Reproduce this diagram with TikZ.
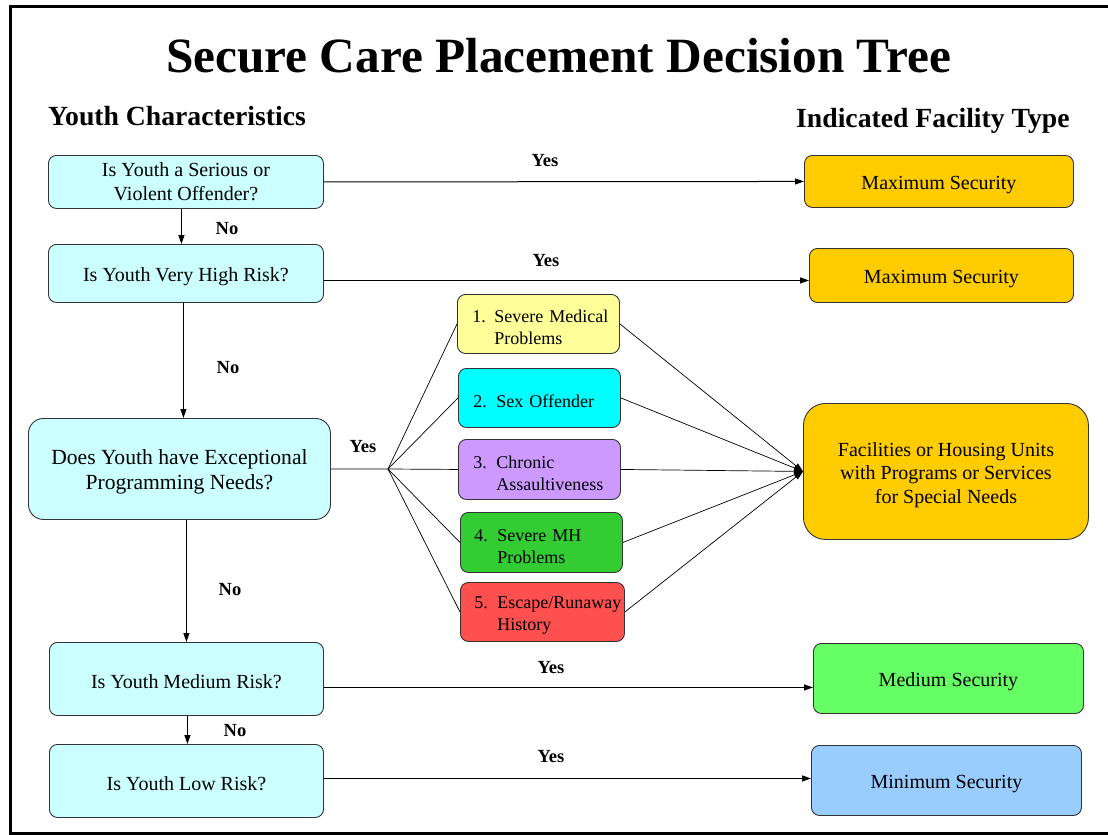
\documentclass[tikz,border=0pt]{standalone}
\usepackage{fontspec}
\setmainfont{Liberation Serif}
\usetikzlibrary{arrows.meta}
\definecolor{qcyan}{HTML}{CCFFFF}
\definecolor{maxsec}{HTML}{FFCC00}
\definecolor{mone}{HTML}{FFFF99}
\definecolor{mtwo}{HTML}{00FFFF}
\definecolor{mthree}{HTML}{CC99FF}
\definecolor{mfour}{HTML}{33CC33}
\definecolor{mfive}{HTML}{FF5050}
\definecolor{medsec}{HTML}{66FF66}
\definecolor{minsec}{HTML}{99CCFF}
\definecolor{edgegray}{HTML}{333333}
\begin{document}
\begin{tikzpicture}[x=1pt,y=-1pt,
  dn/.style={execute at begin node={\rule{0pt}{#1}}},
  box/.style={draw=edgegray, line width=0.9pt, rounded corners=8pt, anchor=north west,
    inner sep=0pt, align=center, dn=19.8pt,
    font=\fontsize{20}{23.5}\selectfont},
  sz/.style n args={2}{minimum width=#1pt, minimum height=#2pt},
  qbox/.style={box, fill=qcyan},
  mbox/.style={box, align=left, dn=13.5pt, font=\fontsize{18}{22}\selectfont},
  lbl/.style={font=\bfseries\fontsize{18.5}{20}\selectfont, inner sep=0pt},
  arr/.style={line width=1pt, -{Triangle[length=9pt,width=6pt]}},
  fanline/.style={line width=0.7pt},
  frame/.style={line width=3pt}
]
\useasboundingbox (0,0) rectangle (1108,835);
\draw[frame] (1108,6.5) -- (10.5,6.5) -- (10.5,833.5) -- (1108,833.5);

% headings
\node[anchor=base, font=\bfseries\fontsize{49.3}{55}\selectfont, inner sep=0pt] (title) at (558.5,72) {Secure Care Placement Decision Tree};
\node[anchor=base west, font=\bfseries\fontsize{27.7}{30}\selectfont, inner sep=0pt] (hleft) at (48,125) {Youth Characteristics};
\node[anchor=base west, font=\bfseries\fontsize{27.7}{30}\selectfont, inner sep=0pt] (hright) at (796,127) {Indicated Facility Type};

% questions
\node[qbox, sz={275}{53}, dn=17pt] (q1) at (48,155) {Is Youth a Serious or\\Violent Offender?};
\node[qbox, sz={275}{58}] (q2) at (48,244) {Is Youth Very High Risk?};
\node[qbox, sz={302}{101}, rounded corners=15pt, dn=0pt, font=\fontsize{21.6}{25}\selectfont] (q3) at (28,418) {\rule{0pt}{20pt}Does Youth have Exceptional\\Programming Needs?};
\node[qbox, sz={274}{73}] (q4) at (49,642) {Is Youth Medium Risk?};
\node[qbox, sz={274}{73}] (q5) at (49,744) {Is Youth Low Risk?};

% facility types
\node[box, fill=maxsec, sz={269}{52}] (r1) at (804,155) {Maximum Security};
\node[box, fill=maxsec, sz={264}{54}] (r2) at (809,248) {Maximum Security};
\node[box, fill=maxsec, sz={285}{136}, rounded corners=22pt, dn=0pt] (r3) at (803,403) {\rule{0pt}{21pt}Facilities or Housing Units\\with Programs or Services\\for Special Needs};
\node[box, fill=medsec, sz={270}{70}] (r4) at (813,643) {Medium Security};
\node[box, fill=minsec, sz={270}{70}] (r5) at (811,745) {Minimum Security};

% special needs
\node[mbox, fill=mone, sz={162}{59}, text width=162pt] (m1) at (457,294) {\hspace*{15pt}\makebox[22pt][l]{1.}Severe Medical\\\hspace*{37pt}Problems};
\node[mbox, fill=mtwo, sz={162}{59}, text width=162pt, dn=16.5pt] (m2) at (458,368) {\hspace*{15pt}\makebox[23pt][l]{2.}Sex Offender};
\node[mbox, fill=mthree, sz={162}{60}, text width=162pt] (m3) at (458,439) {\hspace*{15pt}\makebox[23pt][l]{3.}Chronic\\\hspace*{38pt}Assaultiveness};
\node[mbox, fill=mfour, sz={162}{60}, text width=162pt] (m4) at (460,512) {\hspace*{14pt}\makebox[23pt][l]{4.}Severe MH\\\hspace*{37pt}Problems};
\node[mbox, fill=mfive, sz={164}{59}, text width=164pt] (m5) at (460,582) {\hspace*{14pt}\makebox[23pt][l]{5.}Escape/Runaway\\\hspace*{37pt}History};

\coordinate (fan) at (388,469);

% yes arrows
\draw[arr] (q1.east) -- (r1.west);
\draw[arr] ([yshift=-7pt]q2.east) -- ([yshift=-5pt]r2.west);
\draw[arr] ([yshift=-8.5pt]q4.east) -- ([yshift=-9pt]r4.west);
\draw[arr] ([yshift=2.5pt]q5.east) -- ([yshift=2pt]r5.west);

% no arrows
\draw[arr] ([xshift=-4.5pt]q1.south) -- ([xshift=-4.5pt]q1.south |- q2.north);
\draw[arr] ([xshift=-2.5pt]q2.south) -- ([xshift=-2.5pt]q2.south |- q3.north);
\draw[arr] (q4.north |- q3.south) -- (q4.north);
\draw[arr] ([xshift=1pt]q4.south) -- ([xshift=1pt]q5.north);

% fan
\draw[fanline] (q3.east) -- (fan);
\foreach \m in {m1,m2,m3,m4,m5}{
  \draw[fanline] (fan) -- (\m.west);
  \draw[fanline, -{Triangle[length=9pt,width=6pt]}] (\m.east) -- (r3.west);
}

% labels
\node[lbl] (y1) at (545,161) {Yes};
\node[lbl] (y2) at (546,261) {Yes};
\node[lbl] (y3) at (363,447) {Yes};
\node[lbl] (y4) at (551,668) {Yes};
\node[lbl] (y5) at (551,757) {Yes};
\node[lbl] (n1) at (227,229) {No};
\node[lbl] (n2) at (228,368) {No};
\node[lbl] (n3) at (230,590) {No};
\node[lbl] (n4) at (235,731) {No};
\end{tikzpicture}
\end{document}
